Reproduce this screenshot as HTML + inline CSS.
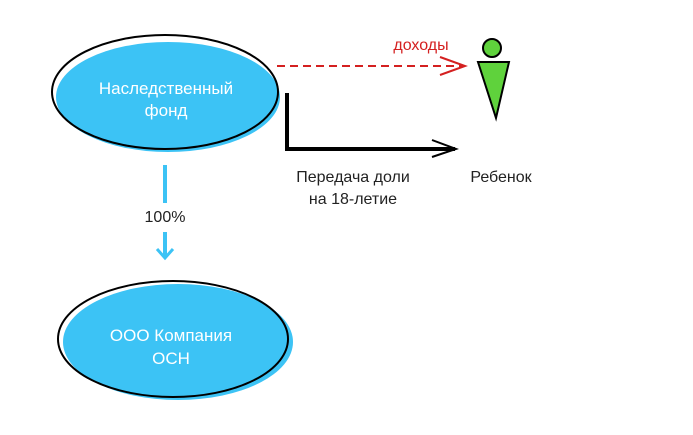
<!DOCTYPE html>
<html><head><meta charset="utf-8"><style>
body{margin:0;background:#fff;}
svg{display:block;}
text{font-family:"Liberation Sans",sans-serif;}
</style></head><body>
<svg width="693" height="435" viewBox="0 0 693 435" xmlns="http://www.w3.org/2000/svg">
<ellipse cx="168" cy="97" rx="112" ry="55" fill="#3cc3f5"/>
<ellipse cx="165" cy="92" rx="113" ry="57" fill="none" stroke="#000" stroke-width="2"/>
<text x="166" y="94" font-size="17" fill="#fff" text-anchor="middle">Наследственный</text>
<text x="166" y="116" font-size="17" fill="#fff" text-anchor="middle">фонд</text>

<ellipse cx="178" cy="342" rx="115" ry="58" fill="#3cc3f5"/>
<ellipse cx="173" cy="339" rx="115" ry="58" fill="none" stroke="#000" stroke-width="2"/>
<text x="171" y="341" font-size="17" fill="#fff" text-anchor="middle">ООО Компания</text>
<text x="171" y="364" font-size="17" fill="#fff" text-anchor="middle">ОСН</text>

<line x1="165" y1="165" x2="165" y2="203" stroke="#3cc3f5" stroke-width="4"/>
<text x="165" y="222" font-size="16" fill="#222" text-anchor="middle">100%</text>
<line x1="165" y1="232" x2="165" y2="257" stroke="#3cc3f5" stroke-width="4"/>
<polyline points="157,249 165,258 173,249" fill="none" stroke="#3cc3f5" stroke-width="3"/>

<line x1="277" y1="66" x2="462" y2="66" stroke="#d42020" stroke-width="2" stroke-dasharray="8,5"/>
<polyline points="440,57 465,66 440,75" fill="none" stroke="#d42020" stroke-width="2"/>
<text x="421" y="50" font-size="16" fill="#d42020" text-anchor="middle">доходы</text>

<polyline points="287,93 287,149 455,149" fill="none" stroke="#000" stroke-width="4"/>
<polyline points="432,140 456,149 432,157" fill="none" stroke="#000" stroke-width="2"/>

<circle cx="492" cy="48" r="9" fill="#5fd23c" stroke="#000" stroke-width="2"/>
<polygon points="478,62 509,62 496,118" fill="#5fd23c" stroke="#000" stroke-width="2"/>

<text x="353" y="182" font-size="16" fill="#222" text-anchor="middle">Передача доли</text>
<text x="353" y="204" font-size="16" fill="#222" text-anchor="middle">на 18-летие</text>
<text x="501" y="182" font-size="16" fill="#222" text-anchor="middle">Ребенок</text>
</svg>
</body></html>
